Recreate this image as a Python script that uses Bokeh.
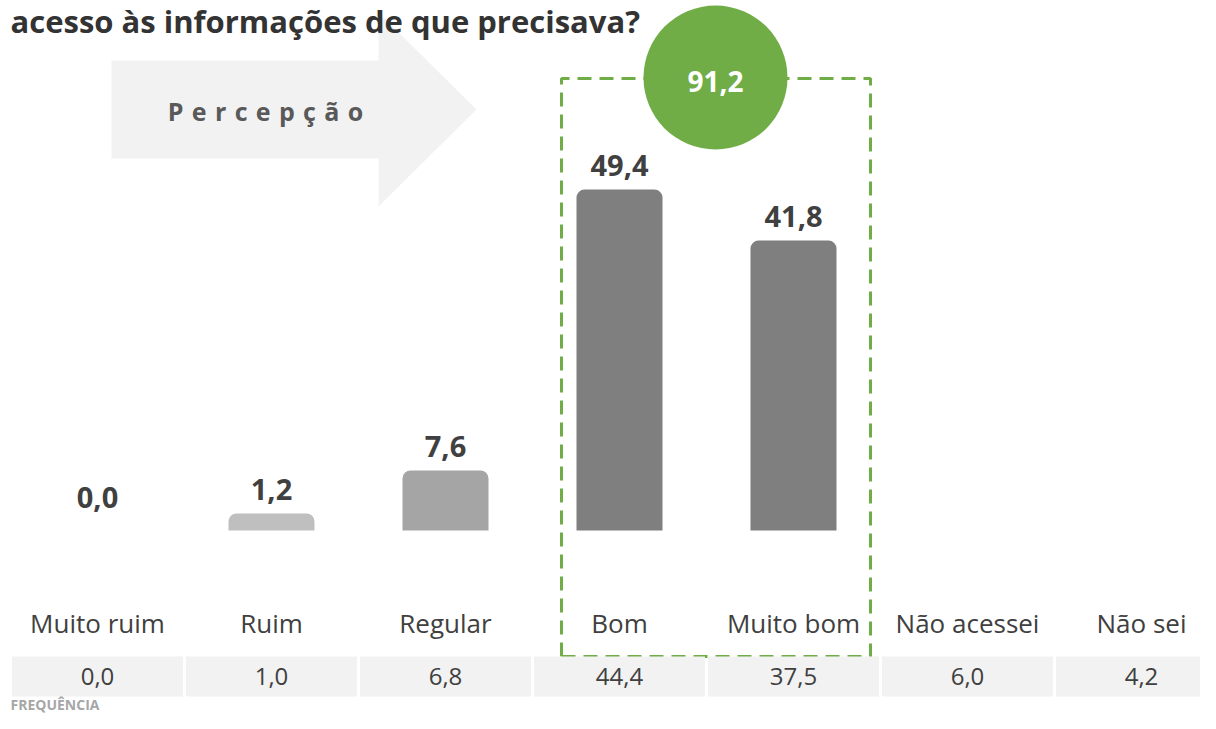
from bokeh.plotting import figure
from bokeh.models import Range1d, ColumnDataSource
from bokeh.core.properties import value
from bokeh.embed import file_html
from bokeh.resources import INLINE

# ---------------- data ----------------
title_text = "acesso às informações de que precisava?"
categories = ["Muito ruim", "Ruim", "Regular", "Bom", "Muito bom", "Não acessei", "Não sei"]
percent_values = [0.0, 1.2, 7.6, 49.4, 41.8]          # bars (first five categories)
frequency_values = [0.0, 1.0, 6.8, 44.4, 37.5, 6.0, 4.2]
top2_total = 91.2
bar_colors = ["#bfbfbf", "#bfbfbf", "#a5a5a5", "#7f7f7f", "#7f7f7f"]
arrow_label = "Percepção"
footer_label = "FREQUÊNCIA"

def fmt(v):
    return f"{v:.1f}".replace(".", ",")

# ---------------- layout helpers (canvas pixels -> data units) ----------------
W, H = 1200, 713
CAT_PX = 174.0      # width of one category
CAT0_PX = 97.0      # centre of first category
UNIT_PX = 6.72      # pixels per percentage point
ZERO_PX = 521.0     # pixel row of value 0

def X(px):
    return (px - CAT0_PX) / CAT_PX

def Y(py):
    return (ZERO_PX - py) / UNIT_PX

FONT = value("Open Sans")
DARK = "#404040"
GREEN = "#70ad47"

p = figure(width=W, height=H, output_backend="svg", toolbar_location=None,
           x_range=Range1d(X(0), X(W)), y_range=Range1d(Y(H), Y(0)),
           min_border=0, outline_line_color=None, background_fill_color="white",
           border_fill_color="white")
p.xaxis.visible = False
p.yaxis.visible = False
p.xgrid.grid_line_color = None
p.ygrid.grid_line_color = None

# Arrow "Percepção"
p.patch(x=[X(111), X(378), X(378), X(476), X(378), X(378), X(111)],
        y=[Y(60), Y(60), Y(12), Y(109), Y(206), Y(158), Y(158)],
        fill_color="#f2f2f2", line_color=None)
p.text(x=[X(265)], y=[Y(110)], text=["\u2004".join(arrow_label)], text_font=FONT,
       text_font_style="bold", text_font_size="25px", text_color="#595959",
       text_align="center", text_baseline="middle")

# Title
p.text(x=[X(10)], y=[Y(20)], text=[title_text], text_font=FONT,
       text_font_style="bold", text_font_size="31px", text_color="#333333",
       text_align="left", text_baseline="middle")

# Bars
idx = list(range(len(percent_values)))
bar_src = ColumnDataSource(dict(
    x=[i for i in idx if percent_values[i] > 0],
    top=[v for v in percent_values if v > 0],
    color=[bar_colors[i] for i in idx if percent_values[i] > 0],
))
p.vbar(x="x", top="top", bottom=Y(530), width=86 / CAT_PX, fill_color="color",
       line_color=None, border_radius=(8, 8, 0, 0), source=bar_src)

LABEL_GAP = 24 / UNIT_PX
lab_src = ColumnDataSource(dict(x=idx, y=[v + LABEL_GAP for v in percent_values],
                                t=[fmt(v) for v in percent_values]))
p.text(x="x", y="y", text="t", source=lab_src, text_font=FONT,
       text_font_style="bold", text_font_size="29px", text_color=DARK,
       text_align="center", text_baseline="middle")

# Top-2 dashed box and circle
bx0, bx1, by0, by1 = X(561), X(870), Y(78), Y(656)
p.line(x=[bx0, bx0, bx1, bx1, bx0], y=[by1, by0, by0, by1, by1], line_color=GREEN,
       line_width=3, line_dash="14 8")
p.scatter(x=[X(715)], y=[Y(77)], size=144, marker="circle", fill_color=GREEN, line_color=None)
p.text(x=[X(715)], y=[Y(81)], text=[fmt(top2_total)], text_font=FONT,
       text_font_style="bold", text_font_size="28px", text_color="white",
       text_align="center", text_baseline="middle")

# Category labels
cidx = list(range(len(categories)))
p.text(x=cidx, y=[Y(622)] * len(cidx), text=categories, text_font=FONT,
       text_font_size="26px", text_color=DARK, text_align="center", text_baseline="middle")

# Frequency row
p.vbar(x=cidx, top=Y(656), bottom=Y(696), width=171 / CAT_PX, fill_color="#f2f2f2",
       line_color=None)
p.text(x=cidx, y=[Y(676)] * len(cidx), text=[fmt(v) for v in frequency_values],
       text_font=FONT, text_font_size="24px", text_color=DARK, text_align="center",
       text_baseline="middle")
p.text(x=[X(10)], y=[Y(704)], text=[footer_label], text_font=FONT, text_font_style="bold",
       text_font_size="14px", text_color="#a6a6a6", text_align="left",
       text_baseline="middle")

open("out.html", "w").write(file_html(p, INLINE))
